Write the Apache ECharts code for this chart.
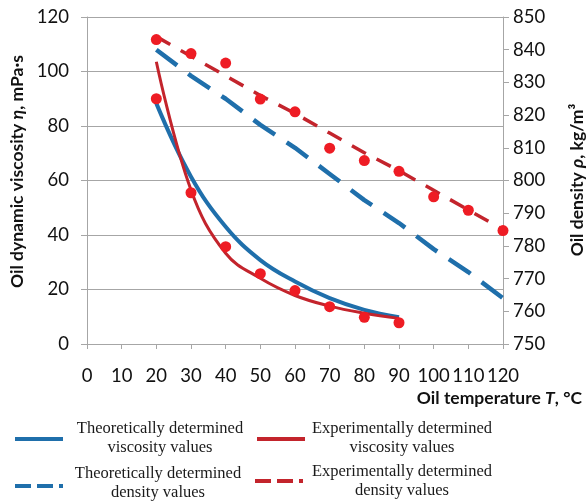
<!DOCTYPE html>
<html>
<head>
<meta charset="utf-8">
<script src="https://cdn.jsdelivr.net/npm/echarts@6/dist/echarts.min.js"></script>
<style>
html,body{margin:0;padding:0;background:#fff;}
#chart{width:587px;height:503px;}
</style>
</head>
<body>
<div id="chart"></div>
<script>
// Temperatures (°C)
var tempsVisc = [20, 30, 40, 50, 60, 70, 80, 90];
var tempsDens = [20, 30, 40, 50, 60, 70, 80, 90, 100, 110, 120];
// Viscosity, mPa·s
var theoVisc = [88.3, 61.4, 43.0, 30.8, 22.9, 16.8, 12.5, 9.8];
var expViscPoints = [90.0, 55.5, 35.7, 25.8, 19.6, 13.7, 9.8, 7.8];
var expViscTrend = [103.6, 56.5, 33.3, 24.1, 17.8, 13.9, 11.3, 9.4];
// Density, kg/m3
var theoDens = [840, 832, 825, 817, 810, 802, 794, 787, 779, 772, 764];
var expDensPoints = [843.1, 838.8, 835.9, 824.9, 821.0, 809.9, 806.1, 802.8, 795.0, 790.9, 784.7];
var expDensTrend = [844, 838, 832, 826, 820.5, 814.5, 808.5, 803, 797, 791, 785];
// Tick settings
var xTicks = {min: 0, max: 120, interval: 10};
var yLeftTicks = {min: 0, max: 120, interval: 20};
var yRightTicks = {min: 750, max: 850, interval: 10};
// Legend entries
var legendNames = [
  ['Theoretically determined', 'viscosity values'],
  ['Experimentally determined', 'viscosity values'],
  ['Theoretically determined', 'density values'],
  ['Experimentally determined', 'density values']
];

function pairs(xs, ys) { return xs.map(function (x, i) { return [x, ys[i]]; }); }

var BLUE = '#1f6fab';
var RED_LINE = '#c3242c';
var RED_DOT = '#ee1c24';
var AX = '#a6a6a6';
var LBL = {fontFamily: 'Lato', fontSize: 18.5, color: '#111'};
var TITLE_FONT = 'Lato';
var TITLE_SIZE = 17.5;

function titleRich() {
  return {
    b: {fontFamily: TITLE_FONT, fontWeight: 'bold', fontSize: TITLE_SIZE, fill: '#111'},
    i: {fontFamily: TITLE_FONT, fontWeight: 'bold', fontStyle: 'italic', fontSize: TITLE_SIZE, fill: '#111'}
  };
}
function legLine(x1, x2, y, color, dash) {
  return {type: 'line', shape: {x1: x1, y1: y, x2: x2, y2: y},
    style: {stroke: color, lineWidth: 4, lineDash: dash || null}};
}
function legText(x, y, lines) {
  return {type: 'text', x: x, y: y,
    style: {text: lines.join('\n'), align: 'center', verticalAlign: 'middle',
      fontFamily: 'Liberation Serif', fontSize: 16.5, lineHeight: 19.5, fill: '#1a1a1a'}};
}

var chart = echarts.init(document.getElementById('chart'), null, {renderer: 'canvas'});
chart.setOption({
  animation: false,
  backgroundColor: '#fff',
  grid: {left: 87, right: 84, top: 17, bottom: 159, containLabel: false},
  xAxis: {
    type: 'value', min: xTicks.min, max: xTicks.max, interval: xTicks.interval,
    axisLine: {show: true, lineStyle: {color: AX, width: 1}},
    axisTick: {show: true, length: 5, lineStyle: {color: AX}},
    splitLine: {show: false},
    axisLabel: Object.assign({margin: 23}, LBL)
  },
  yAxis: [{
    type: 'value', position: 'left', min: yLeftTicks.min, max: yLeftTicks.max, interval: yLeftTicks.interval,
    axisLine: {show: true, lineStyle: {color: AX, width: 1}},
    axisTick: {show: true, length: 6, lineStyle: {color: AX}},
    splitLine: {show: true, lineStyle: {color: AX, width: 1}},
    axisLabel: Object.assign({margin: 18}, LBL)
  }, {
    type: 'value', position: 'right', min: yRightTicks.min, max: yRightTicks.max, interval: yRightTicks.interval,
    axisLine: {show: true, lineStyle: {color: AX, width: 1}},
    axisTick: {show: true, length: 6, lineStyle: {color: AX}},
    splitLine: {show: false},
    axisLabel: Object.assign({margin: 10}, LBL)
  }],
  series: [{
    name: 'theoDens', type: 'line', yAxisIndex: 1, data: pairs(tempsDens, theoDens),
    symbol: 'none', lineStyle: {color: BLUE, width: 4.5, type: [26, 14]}, z: 2
  }, {
    name: 'expDensTrend', type: 'line', yAxisIndex: 1, data: pairs(tempsDens, expDensTrend),
    symbol: 'none', lineStyle: {color: RED_LINE, width: 3.5, type: [16, 12]}, z: 3
  }, {
    name: 'theoVisc', type: 'line', yAxisIndex: 0, data: pairs(tempsVisc, theoVisc),
    symbol: 'none', smooth: 0.4, lineStyle: {color: BLUE, width: 4}, z: 3
  }, {
    name: 'expViscTrend', type: 'line', yAxisIndex: 0, data: pairs(tempsVisc, expViscTrend),
    symbol: 'none', smooth: 0.4, lineStyle: {color: RED_LINE, width: 3}, z: 4
  }, {
    name: 'expViscPts', type: 'scatter', yAxisIndex: 0, data: pairs(tempsVisc, expViscPoints),
    symbol: 'circle', symbolSize: 11, itemStyle: {color: RED_DOT, opacity: 1}, z: 5
  }, {
    name: 'expDensPts', type: 'scatter', yAxisIndex: 1, data: pairs(tempsDens, expDensPoints),
    symbol: 'circle', symbolSize: 11, itemStyle: {color: RED_DOT, opacity: 1}, z: 5
  }],
  graphic: [{
    type: 'text', x: 17.5, y: 171.5, rotation: Math.PI / 2,
    style: {text: '{b|Oil dynamic viscosity }{i|η}{b|, mPa·s}', align: 'center', verticalAlign: 'middle', rich: titleRich()}
  }, {
    type: 'text', x: 577, y: 180, rotation: Math.PI / 2,
    style: {text: '{b|Oil density }{i|ρ}{b|, kg/m³}', align: 'center', verticalAlign: 'middle', rich: titleRich()}
  }, {
    type: 'text', x: 582, y: 398,
    style: {text: '{b|Oil temperature }{i|T}{b|, °C}', align: 'right', verticalAlign: 'middle', rich: titleRich()}
  },
  legLine(15, 63, 439, BLUE),
  legText(160, 438, legendNames[0]),
  legLine(257, 305, 439, RED_LINE),
  legText(402, 438, legendNames[1]),
  legLine(15, 63, 486, BLUE, [16, 6]),
  legText(158, 483, legendNames[2]),
  legLine(255, 303, 481, RED_LINE, [16, 6]),
  legText(402, 481, legendNames[3])
  ]
});
</script>
</body>
</html>
